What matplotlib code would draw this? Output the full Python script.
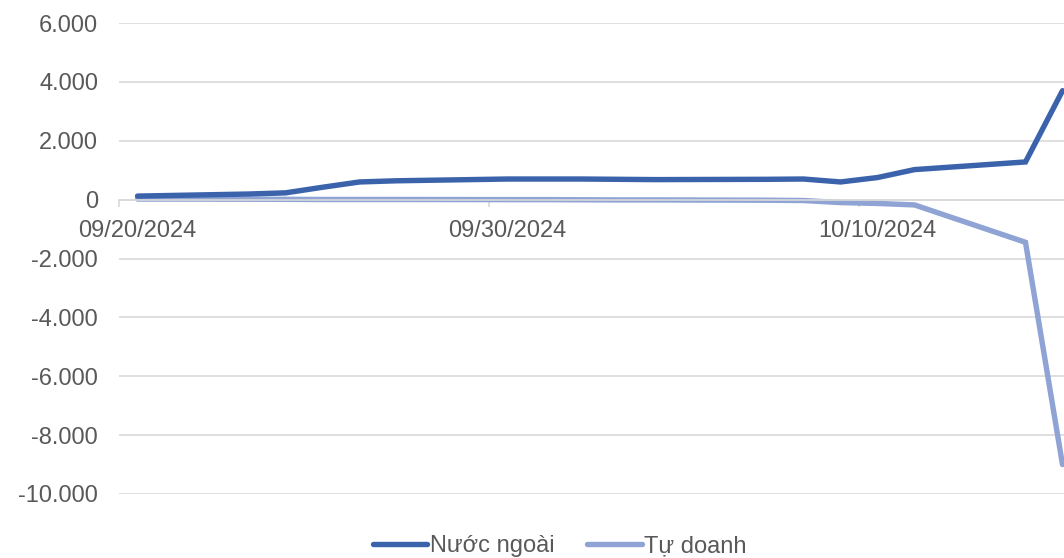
import matplotlib
matplotlib.use('Agg')
import matplotlib.pyplot as plt
import matplotlib.dates as mdates
import pandas as pd

plt.rcParams['font.family'] = ['Liberation Sans', 'DejaVu Sans']

# dữ liệu
dates = ['2024-09-20', '2024-09-23', '2024-09-24', '2024-09-25', '2024-09-26',
         '2024-09-27', '2024-09-30', '2024-10-01', '2024-10-02', '2024-10-03',
         '2024-10-04', '2024-10-07', '2024-10-08', '2024-10-09', '2024-10-10',
         '2024-10-11', '2024-10-14', '2024-10-15']
nuoc_ngoai = [120, 190, 230, 420, 600, 640, 700, 700, 700, 690,
              680, 690, 700, 600, 750, 1020, 1280, 3700]
tu_doanh = [20, 15, 10, 5, 5, 5, 0, 0, -5, -10,
            -10, -20, -30, -100, -130, -180, -1450, -9000]
tick_dates = ['2024-09-20', '2024-09-30', '2024-10-10']
y_ticks = [-10000, -8000, -6000, -4000, -2000, 0, 2000, 4000, 6000]

x = mdates.date2num(pd.to_datetime(dates))
xt = mdates.date2num(pd.to_datetime(tick_dates))

fig = plt.figure(figsize=(10.64, 5.58), dpi=100)
ax = fig.add_axes([119 / 1064, 1 - 494 / 558, 962 / 1064, 471 / 558])

dark = '#3B63AC'
light = '#8FA4D5'
ax.plot(x, nuoc_ngoai, color=dark, lw=3.9, solid_capstyle='round',
        solid_joinstyle='miter', label='Nước ngoài', zorder=3)
ax.plot(x, tu_doanh, color=light, lw=3.9, solid_capstyle='round',
        solid_joinstyle='miter', label='Tự doanh', zorder=2)

ax.set_xlim(x[0] - 0.5, x[-1] + 0.5)
ax.set_ylim(-10000, 6000)

grid_c = '#D9D9D9'
ax.set_yticks(y_ticks)
ax.set_yticklabels([f'{v:,.0f}'.replace(',', '.') for v in y_ticks])
ax.yaxis.grid(True, color=grid_c, lw=1.2)
ax.set_axisbelow(True)
ax.tick_params(axis='y', length=0, pad=15, labelsize=17, labelcolor='#595959')

for s in ['top', 'right', 'left']:
    ax.spines[s].set_visible(False)
ax.spines['bottom'].set_position(('data', 0))
ax.spines['bottom'].set_color(grid_c)
ax.spines['bottom'].set_linewidth(1.2)

# nhãn ngày ở giữa, vạch chia nằm giữa hai ngày
ax.set_xticks(xt)
ax.set_xticklabels([pd.to_datetime(d).strftime('%m/%d/%Y') for d in tick_dates])
ax.set_xticks(xt - 0.5, minor=True)
ax.tick_params(axis='x', which='major', length=0, pad=14.5, labelsize=17, labelcolor='#595959')
ax.tick_params(axis='x', which='minor', length=5, width=1.2, color=grid_c)

fig.legend(loc='center', bbox_to_anchor=(0.526, 0.021), ncol=2, frameon=False,
           fontsize=17, handlelength=2.3, handletextpad=0.1, columnspacing=1.4,
           labelcolor='#595959')

fig.savefig('out.png', dpi=100)
